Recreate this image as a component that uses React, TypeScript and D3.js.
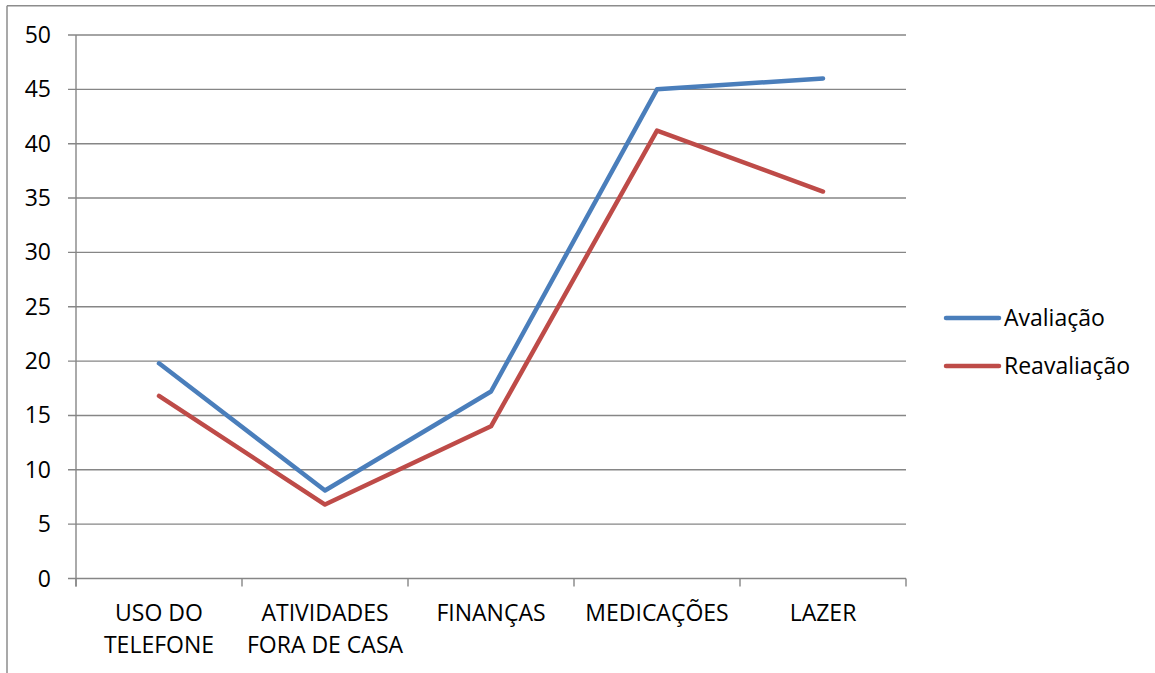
import React from "react";
import * as d3 from "d3";

const categories: string[][] = [
  ["USO DO", "TELEFONE"],
  ["ATIVIDADES", "FORA DE CASA"],
  ["FINANÇAS"],
  ["MEDICAÇÕES"],
  ["LAZER"],
];
const avaliacao = [19.8, 8.1, 17.2, 45.0, 46.0];
const reavaliacao = [16.8, 6.8, 14.0, 41.2, 35.6];
const yTicks = [0, 5, 10, 15, 20, 25, 30, 35, 40, 45, 50];
const seriesNames = ["Avaliação", "Reavaliação"];
const seriesColors = ["#4A7EBB", "#BE4B48"];

export default function App() {
  const W = 1155, H = 673;
  const left = 76, right = 906, top = 35, bottom = 578.5;
  const x = d3.scaleBand<number>().domain(d3.range(categories.length)).range([left, right]);
  const y = d3.scaleLinear().domain([0, 50]).range([bottom, top]);
  const line = d3
    .line<number>()
    .x((_, i) => (x(i) as number) + x.bandwidth() / 2)
    .y((v) => y(v));
  const font = "'Open Sans', sans-serif";
  const grid = "#868686";
  const series = [avaliacao, reavaliacao];
  const bounds = d3.range(categories.length + 1).map((i) => left + i * x.bandwidth());
  const fs = 23;
  return (
    <svg width={W} height={H} style={{ position: "absolute", left: 0, top: 0, background: "#fff" }} fontFamily={font}>
      <rect x={0} y={0} width={W} height={H} fill="#fff" />
      <line x1={7} y1={5.8} x2={W} y2={5.8} stroke="#8c8c8c" strokeWidth={1.5} />
      <line x1={7} y1={5.8} x2={7} y2={H} stroke="#8c8c8c" strokeWidth={1.5} />
      {yTicks.map((t) => (
        <g key={t}>
          <line x1={left - 8} x2={right} y1={y(t)} y2={y(t)} stroke={grid} strokeWidth={1.4} />
          <text x={51} y={y(t) + 8} textAnchor="end" fontSize={fs} fill="#000">
            {t}
          </text>
        </g>
      ))}
      <line x1={left} x2={left} y1={top} y2={bottom + 8} stroke={grid} strokeWidth={1.4} />
      {bounds.map((b, i) => (
        <line key={i} x1={b} x2={b} y1={bottom} y2={bottom + 8} stroke={grid} strokeWidth={1.4} />
      ))}
      {categories.map((lines, i) => (
        <text key={i} textAnchor="middle" fontSize={fs} fill="#000">
          {lines.map((l, j) => (
            <tspan key={j} x={(x(i) as number) + x.bandwidth() / 2} y={621 + j * 32}>
              {l}
            </tspan>
          ))}
        </text>
      ))}
      {series.map((s, k) => (
        <path key={k} d={line(s) || ""} fill="none" stroke={seriesColors[k]} strokeWidth={4.5} strokeLinecap="round" strokeLinejoin="round" />
      ))}
      {seriesNames.map((n, k) => (
        <g key={n}>
          <line x1={946} x2={999} y1={318 + k * 48} y2={318 + k * 48} stroke={seriesColors[k]} strokeWidth={4.5} strokeLinecap="round" />
          <text x={1004} y={318 + k * 48 + 8} fontSize={fs} fill="#000">
            {n}
          </text>
        </g>
      ))}
    </svg>
  );
}
